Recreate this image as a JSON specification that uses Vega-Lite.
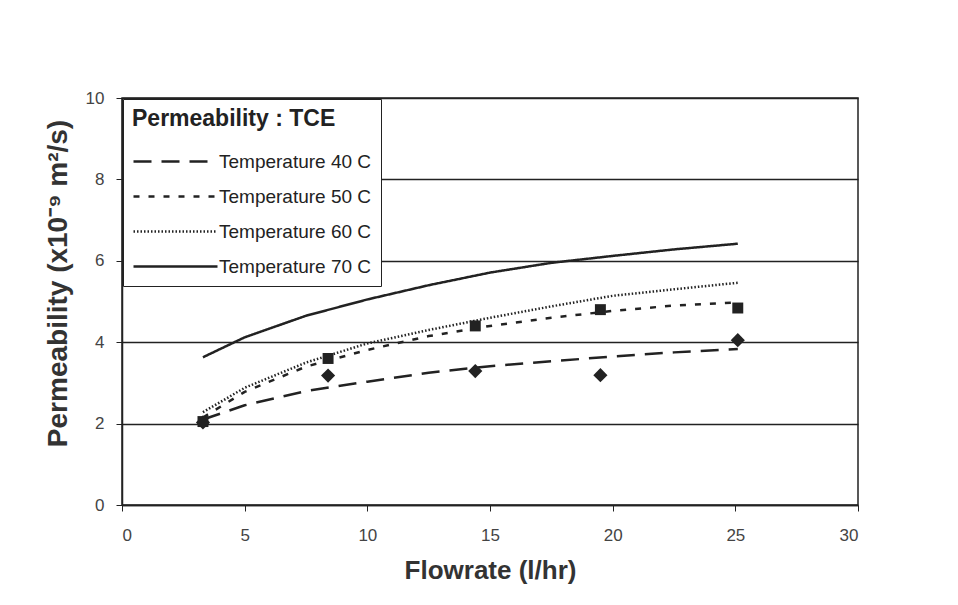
{
  "$schema": "https://vega.github.io/schema/vega-lite/v6.json",
  "width": 736,
  "height": 407,
  "autosize": "none",
  "padding": {"left": 122, "top": 98, "right": 100, "bottom": 100},
  "background": "white",
  "config": {
    "view": {"stroke": "#222", "strokeWidth": 1.5},
    "font": "Liberation Sans",
    "axis": {
      "labelFont": "Liberation Sans",
      "titleFont": "Liberation Sans",
      "labelColor": "#444",
      "titleColor": "#333",
      "domainColor": "#222",
      "tickColor": "#222",
      "domainWidth": 1.5,
      "labelFontSize": 17,
      "titleFontSize": 26,
      "titleFontWeight": "bold"
    }
  },
  "datasets": {
    "curves": [
      {"series": "Temperature 40 C", "flow": 3.3, "perm": 2.1},
      {"series": "Temperature 40 C", "flow": 5, "perm": 2.45},
      {"series": "Temperature 40 C", "flow": 7.5, "perm": 2.8},
      {"series": "Temperature 40 C", "flow": 10, "perm": 3.03},
      {"series": "Temperature 40 C", "flow": 12.5, "perm": 3.25},
      {"series": "Temperature 40 C", "flow": 15, "perm": 3.41},
      {"series": "Temperature 40 C", "flow": 17.5, "perm": 3.53},
      {"series": "Temperature 40 C", "flow": 20, "perm": 3.65},
      {"series": "Temperature 40 C", "flow": 22.5, "perm": 3.75},
      {"series": "Temperature 40 C", "flow": 25.1, "perm": 3.83},
      {"series": "Temperature 50 C", "flow": 3.3, "perm": 2.15},
      {"series": "Temperature 50 C", "flow": 5, "perm": 2.78},
      {"series": "Temperature 50 C", "flow": 7.5, "perm": 3.4},
      {"series": "Temperature 50 C", "flow": 10, "perm": 3.81},
      {"series": "Temperature 50 C", "flow": 12.5, "perm": 4.15},
      {"series": "Temperature 50 C", "flow": 15, "perm": 4.4},
      {"series": "Temperature 50 C", "flow": 17.5, "perm": 4.6},
      {"series": "Temperature 50 C", "flow": 20, "perm": 4.77},
      {"series": "Temperature 50 C", "flow": 22.5, "perm": 4.9},
      {"series": "Temperature 50 C", "flow": 25.1, "perm": 4.98},
      {"series": "Temperature 60 C", "flow": 3.3, "perm": 2.28},
      {"series": "Temperature 60 C", "flow": 5, "perm": 2.88},
      {"series": "Temperature 60 C", "flow": 7.5, "perm": 3.5},
      {"series": "Temperature 60 C", "flow": 10, "perm": 3.97},
      {"series": "Temperature 60 C", "flow": 12.5, "perm": 4.3},
      {"series": "Temperature 60 C", "flow": 15, "perm": 4.6},
      {"series": "Temperature 60 C", "flow": 17.5, "perm": 4.88},
      {"series": "Temperature 60 C", "flow": 20, "perm": 5.14},
      {"series": "Temperature 60 C", "flow": 22.5, "perm": 5.3},
      {"series": "Temperature 60 C", "flow": 25.1, "perm": 5.46},
      {"series": "Temperature 70 C", "flow": 3.3, "perm": 3.63},
      {"series": "Temperature 70 C", "flow": 5, "perm": 4.12},
      {"series": "Temperature 70 C", "flow": 7.5, "perm": 4.65},
      {"series": "Temperature 70 C", "flow": 10, "perm": 5.05},
      {"series": "Temperature 70 C", "flow": 12.5, "perm": 5.4},
      {"series": "Temperature 70 C", "flow": 15, "perm": 5.71},
      {"series": "Temperature 70 C", "flow": 17.5, "perm": 5.95},
      {"series": "Temperature 70 C", "flow": 20, "perm": 6.12},
      {"series": "Temperature 70 C", "flow": 22.5, "perm": 6.28},
      {"series": "Temperature 70 C", "flow": 25.1, "perm": 6.42}
    ],
    "points": [
      {"series": "40 C", "flow": 3.3, "perm": 2.03},
      {"series": "40 C", "flow": 8.4, "perm": 3.18},
      {"series": "40 C", "flow": 14.4, "perm": 3.29},
      {"series": "40 C", "flow": 19.5, "perm": 3.19},
      {"series": "40 C", "flow": 25.1, "perm": 4.05},
      {"series": "50 C", "flow": 3.3, "perm": 2.05},
      {"series": "50 C", "flow": 8.4, "perm": 3.6},
      {"series": "50 C", "flow": 14.4, "perm": 4.4},
      {"series": "50 C", "flow": 19.5, "perm": 4.8},
      {"series": "50 C", "flow": 25.1, "perm": 4.84}
    ]
  },
  "layer": [
    {
      "data": {"name": "curves"},
      "mark": {"type": "line", "color": "#222"},
      "encoding": {
        "x": {
          "field": "flow", "type": "quantitative",
          "scale": {"domain": [0, 30], "nice": false},
          "axis": {"title": "Flowrate (l/hr)", "values": [0, 5, 10, 15, 20, 25, 30], "grid": false, "tickSize": 6, "labelPadding": 16, "titlePadding": 14}
        },
        "y": {
          "field": "perm", "type": "quantitative",
          "scale": {"domain": [0, 10], "nice": false},
          "axis": {"title": "Permeability (x10⁻⁹ m²/s)", "titleFontSize": 28, "titleY": 185, "values": [0, 2, 4, 6, 8, 10], "grid": true, "gridColor": "#222", "gridWidth": 1.5, "gridOpacity": 1, "tickSize": 6, "labelPadding": 12, "titlePadding": 13}
        },
        "strokeDash": {
          "field": "series", "type": "nominal",
          "scale": {"domain": ["Temperature 40 C", "Temperature 50 C", "Temperature 60 C", "Temperature 70 C"], "range": [[18, 10], [6, 9], [1.5, 2], [1, 0]]},
          "legend": {
            "title": "Permeability : TCE",
            "titleLimit": 400,
            "orient": "top-left",
            "offset": 1,
            "titleFontSize": 23,
            "titleFontWeight": "bold",
            "titleColor": "#222",
            "titlePadding": 14,
            "labelFontSize": 19,
            "labelColor": "#222",
            "labelLimit": 400,
            "labelOffset": 54,
            "symbolType": "M-1,0H4.6",
            "symbolSize": 900,
            "symbolStrokeColor": "#222",
            "symbolStrokeWidth": 2.5,
            "rowPadding": 8,
            "padding": 9,
            "strokeColor": "#222",
            "fillColor": "white"
          }
        },
        "strokeWidth": {
          "field": "series", "type": "nominal",
          "scale": {"domain": ["Temperature 40 C", "Temperature 50 C", "Temperature 60 C", "Temperature 70 C"], "range": [2.5, 2.5, 1.5, 3]},
          "legend": null
        }
      }
    },
    {
      "data": {"name": "points"},
      "mark": {"type": "point", "filled": true, "color": "#222", "opacity": 1},
      "encoding": {
        "x": {"field": "flow", "type": "quantitative"},
        "y": {"field": "perm", "type": "quantitative"},
        "shape": {
          "field": "series", "type": "nominal",
          "scale": {"domain": ["40 C", "50 C"], "range": ["diamond", "square"]},
          "legend": null
        },
        "size": {
          "field": "series", "type": "nominal",
          "scale": {"domain": ["40 C", "50 C"], "range": [200, 120]},
          "legend": null
        }
      }
    }
  ]
}
